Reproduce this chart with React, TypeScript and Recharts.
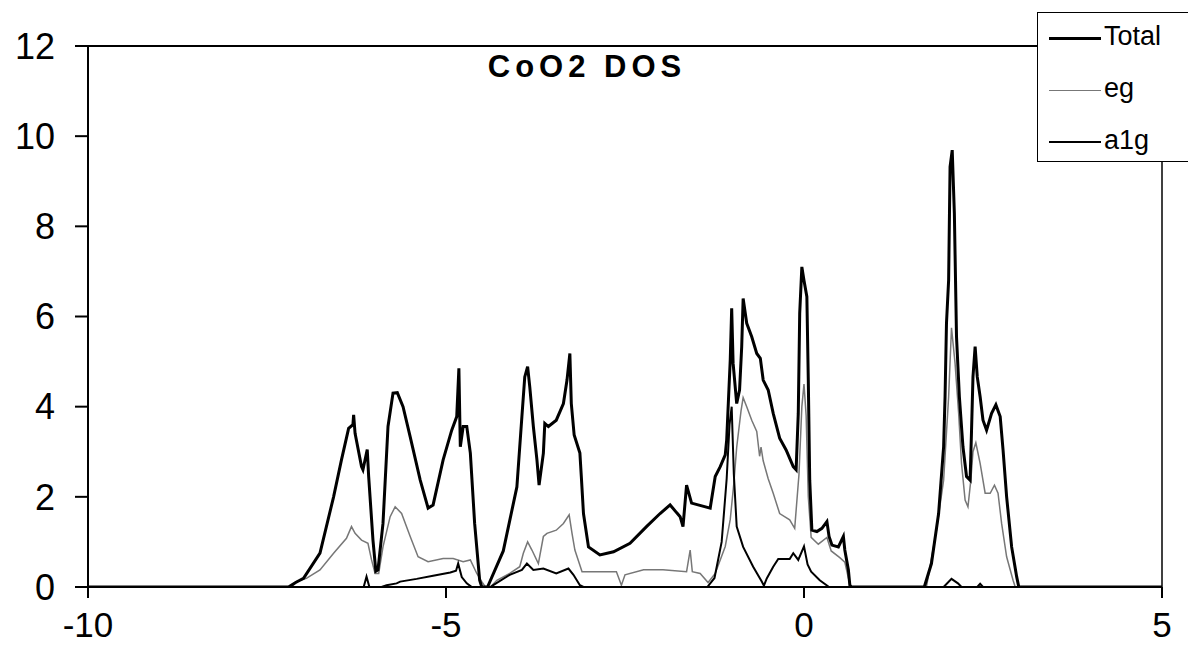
import React from 'react';
import { LineChart, Line, XAxis, YAxis, ReferenceLine } from 'recharts';

// energy (eV), DOS pairs
const totalDos: number[][] = [
  [-10, 0], [-7.2, 0], [-7.1, 0.1], [-6.99, 0.19], [-6.76, 0.75], [-6.57, 2.0], [-6.46, 2.82], [-6.36, 3.52],
  [-6.3, 3.6], [-6.29, 3.82], [-6.27, 3.41], [-6.18, 2.67], [-6.16, 2.6], [-6.1, 3.05], [-6.08, 2.45],
  [-6.02, 1.04], [-5.98, 0.35], [-5.95, 0.38], [-5.88, 1.41], [-5.81, 3.56], [-5.74, 4.3], [-5.68, 4.31],
  [-5.6, 4.0], [-5.5, 3.33], [-5.36, 2.37], [-5.25, 1.75], [-5.18, 1.82], [-5.04, 2.82], [-4.92, 3.48],
  [-4.85, 3.78], [-4.82, 4.85], [-4.8, 3.11], [-4.76, 3.56], [-4.71, 3.56], [-4.66, 2.97], [-4.6, 1.41],
  [-4.53, 0.15], [-4.5, 0], [-4.42, 0], [-4.2, 0.8], [-4.01, 2.22], [-3.94, 3.78], [-3.9, 4.66], [-3.86, 4.89],
  [-3.83, 4.44], [-3.78, 3.56], [-3.73, 2.82], [-3.7, 2.26], [-3.64, 2.97], [-3.62, 3.63], [-3.57, 3.56],
  [-3.46, 3.7], [-3.36, 4.07], [-3.31, 4.59], [-3.27, 5.18], [-3.25, 4.07], [-3.21, 3.37], [-3.13, 2.97],
  [-3.11, 2.45], [-3.08, 1.63], [-3.01, 0.89], [-2.85, 0.71], [-2.66, 0.78], [-2.43, 0.97], [-2.2, 1.34],
  [-2.01, 1.63], [-1.87, 1.82], [-1.78, 1.65], [-1.73, 1.56], [-1.69, 1.34], [-1.64, 2.26], [-1.57, 1.86],
  [-1.31, 1.75], [-1.24, 2.45], [-1.17, 2.67], [-1.1, 2.93], [-1.08, 3.26], [-1.03, 5.04], [-1.01, 6.18],
  [-0.99, 4.96], [-0.94, 4.07], [-0.9, 4.37], [-0.87, 5.33], [-0.85, 6.4], [-0.8, 5.85], [-0.73, 5.55],
  [-0.66, 5.18], [-0.61, 5.07], [-0.57, 4.59], [-0.5, 4.37], [-0.43, 3.85], [-0.34, 3.3], [-0.25, 3.04],
  [-0.15, 2.67], [-0.11, 2.6], [-0.08, 3.85], [-0.06, 6.07], [-0.03, 7.1], [0.0, 6.8], [0.04, 6.44],
  [0.06, 4.59], [0.08, 2.37], [0.11, 1.26], [0.18, 1.23], [0.25, 1.3], [0.32, 1.45], [0.35, 1.12],
  [0.39, 0.93], [0.48, 0.89], [0.55, 1.12], [0.57, 0.82], [0.62, 0.38], [0.64, 0.04], [0.66, 0], [1.68, 0],
  [1.78, 0.52], [1.88, 1.63], [1.95, 3.11], [1.97, 4.22], [1.99, 5.85], [2.02, 6.81], [2.04, 9.32],
  [2.07, 9.69], [2.1, 8.29], [2.13, 5.55], [2.17, 4.22], [2.22, 3.11], [2.27, 2.45], [2.32, 2.37],
  [2.34, 3.48], [2.36, 4.66], [2.39, 5.33], [2.42, 4.66], [2.46, 4.22], [2.5, 3.7], [2.55, 3.48],
  [2.62, 3.85], [2.68, 4.04], [2.74, 3.78], [2.78, 3.04], [2.83, 2.0], [2.9, 0.89], [2.97, 0.23], [3.0, 0],
  [5, 0],
];

const egDos: number[][] = [
  [-10, 0], [-7.15, 0], [-7.09, 0.12], [-6.95, 0.19], [-6.76, 0.38], [-6.57, 0.75], [-6.39, 1.08],
  [-6.32, 1.34], [-6.27, 1.19], [-6.18, 1.04], [-6.09, 0.97], [-6.04, 0.6], [-5.99, 0.3], [-5.94, 0.3],
  [-5.88, 0.89], [-5.78, 1.56], [-5.71, 1.78], [-5.62, 1.63], [-5.5, 1.12], [-5.39, 0.67], [-5.25, 0.56],
  [-5.04, 0.63], [-4.9, 0.63], [-4.76, 0.56], [-4.66, 0.6], [-4.57, 0.3], [-4.5, 0.12], [-4.45, 0],
  [-4.38, 0], [-4.29, 0.15], [-4.11, 0.3], [-3.97, 0.45], [-3.92, 0.75], [-3.86, 1.0], [-3.8, 0.82],
  [-3.71, 0.52], [-3.64, 1.12], [-3.59, 1.19], [-3.46, 1.26], [-3.36, 1.41], [-3.28, 1.6], [-3.24, 1.19],
  [-3.2, 0.82], [-3.1, 0.34], [-2.62, 0.34], [-2.55, 0.04], [-2.5, 0.27], [-2.24, 0.38], [-1.97, 0.38],
  [-1.64, 0.34], [-1.59, 0.82], [-1.56, 0.34], [-1.45, 0.3], [-1.34, 0.1], [-1.24, 0.3], [-1.1, 0.9],
  [-1.03, 1.5], [-0.98, 2.3], [-0.94, 3.1], [-0.88, 3.9], [-0.85, 4.2], [-0.8, 4.0], [-0.73, 3.7],
  [-0.66, 3.45], [-0.62, 2.9], [-0.6, 3.1], [-0.57, 2.8], [-0.5, 2.4], [-0.43, 2.08], [-0.34, 1.63],
  [-0.2, 1.49], [-0.13, 1.3], [-0.07, 2.5], [-0.03, 4.0], [0.0, 4.5], [0.03, 3.8], [0.06, 2.0], [0.1, 1.1],
  [0.2, 0.95], [0.32, 1.1], [0.38, 0.8], [0.5, 0.65], [0.57, 0.55], [0.62, 0.2], [0.66, 0], [1.71, 0],
  [1.85, 1.26], [1.95, 2.37], [2.02, 4.22], [2.06, 5.75], [2.11, 4.96], [2.16, 3.85], [2.2, 2.74],
  [2.25, 1.93], [2.29, 1.78], [2.33, 2.37], [2.36, 3.0], [2.4, 3.2], [2.46, 2.74], [2.53, 2.08],
  [2.6, 2.08], [2.66, 2.26], [2.71, 2.08], [2.76, 1.41], [2.83, 0.67], [2.92, 0.15], [2.95, 0], [5, 0],
];

const a1gDos: number[][] = [
  [-10, 0], [-6.15, 0], [-6.11, 0.23], [-6.07, 0], [-5.9, 0], [-5.83, 0.04], [-5.69, 0.08], [-5.64, 0.12],
  [-5.41, 0.18], [-5.18, 0.25], [-4.94, 0.32], [-4.86, 0.36], [-4.83, 0.52], [-4.78, 0.22], [-4.71, 0.08],
  [-4.64, 0], [-4.38, 0], [-4.34, 0.04], [-4.11, 0.27], [-3.94, 0.38], [-3.87, 0.52], [-3.78, 0.38],
  [-3.64, 0.41], [-3.46, 0.3], [-3.29, 0.41], [-3.22, 0.27], [-3.13, 0.04], [-3.08, 0], [-1.35, 0],
  [-1.25, 0.2], [-1.15, 1.0], [-1.08, 2.4], [-1.04, 3.6], [-1.01, 4.0], [-0.98, 2.5], [-0.94, 1.34],
  [-0.85, 0.89], [-0.71, 0.45], [-0.59, 0.12], [-0.56, 0.03], [-0.52, 0.19], [-0.43, 0.45], [-0.36, 0.62],
  [-0.2, 0.62], [-0.15, 0.75], [-0.08, 0.6], [0.0, 0.9], [0.05, 0.5], [0.1, 0.34], [0.22, 0.15], [0.35, 0],
  [1.95, 0], [2.06, 0.18], [2.15, 0.08], [2.2, 0], [2.42, 0], [2.46, 0.07], [2.5, 0], [5, 0],
];

const xTicks = [-10, -5, 0, 5];
const yTicks = [0, 2, 4, 6, 8, 10, 12];

const FONT = "Arial, 'Liberation Sans', sans-serif";

const toRows = (pairs: number[][]) => pairs.map(([x, y]) => ({ x, y }));

const legendItems = [
  { name: 'Total', color: '#000', width: 3 },
  { name: 'eg', color: '#777', width: 1.5 },
  { name: 'a1g', color: '#000', width: 2 },
];

function DosLegend() {
  return (
    <div
      style={{
        position: 'absolute',
        left: 1037,
        top: 12,
        width: 160,
        height: 150,
        background: '#fff',
        border: '1px solid #000',
        boxSizing: 'border-box',
        fontFamily: FONT,
        fontSize: 27,
      }}
    >
      <div style={{ marginTop: -3 }}>
        {legendItems.map((it) => (
          <div key={it.name} style={{ display: 'flex', alignItems: 'center', height: 52 }}>
            <div style={{ width: 52, marginLeft: 11, marginTop: 4, borderTop: `${it.width}px solid ${it.color}` }} />
            <span style={{ marginLeft: 3, color: '#000' }}>{it.name}</span>
          </div>
        ))}
      </div>
    </div>
  );
}

export default function App() {
  return (
    <div style={{ position: 'absolute', left: 0, top: 0, width: 1188, height: 660, background: '#fff' }}>
      <LineChart width={1188} height={660} margin={{ top: 46, right: 26, bottom: 0, left: 0 }}>
        <XAxis
          type="number"
          dataKey="x"
          domain={[-10, 5]}
          ticks={xTicks}
          allowDataOverflow
          height={73}
          stroke="#000"
          strokeWidth={2}
          tickSize={11}
          tickMargin={14}
          tick={{ fill: '#000', fontSize: 35, fontFamily: FONT }}
        />
        <YAxis
          type="number"
          domain={[0, 12]}
          ticks={yTicks}
          allowDataOverflow
          width={88}
          stroke="#000"
          strokeWidth={2}
          tickSize={13}
          tickMargin={20}
          tick={{ fill: '#000', fontSize: 36, fontFamily: FONT }}
        />
        <ReferenceLine y={12} stroke="#000" strokeWidth={2} />
        <ReferenceLine x={5} stroke="#000" strokeWidth={1.5} />
        <Line data={toRows(egDos)} dataKey="y" name="eg" stroke="#777" strokeWidth={1.5} dot={false} isAnimationActive={false} />
        <Line data={toRows(a1gDos)} dataKey="y" name="a1g" stroke="#000" strokeWidth={2} dot={false} isAnimationActive={false} />
        <Line data={toRows(totalDos)} dataKey="y" name="Total" stroke="#000" strokeWidth={3} dot={false} isAnimationActive={false} />
        <text x={587} y={77} textAnchor="middle" fontFamily={FONT} fontWeight="bold" fontSize={31} letterSpacing={5} fill="#000">
          CoO2 DOS
        </text>
      </LineChart>
      <DosLegend />
    </div>
  );
}
